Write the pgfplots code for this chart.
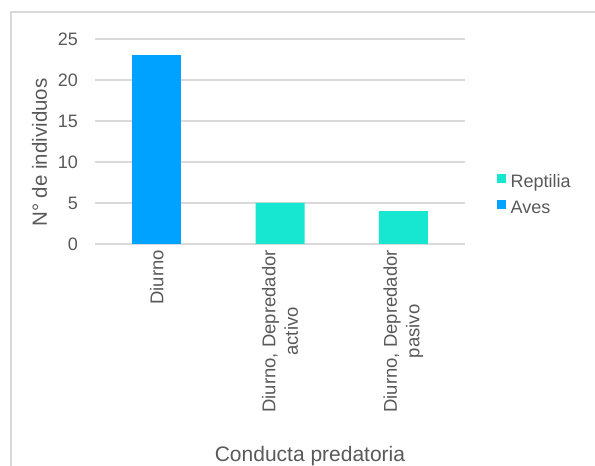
\documentclass[border=0pt]{standalone}
\usepackage{pgfplots}
\pgfplotsset{compat=1.18}
\usepackage{fontspec}
\setmainfont{Liberation Sans}

\definecolor{txt}{HTML}{595959}
\definecolor{gridc}{HTML}{D9D9D9}
\definecolor{aves}{HTML}{00A2FF}
\definecolor{rept}{HTML}{17E6D0}

\begin{document}
\begin{tikzpicture}[x=1bp,y=1bp]
\useasboundingbox (0,0) rectangle (595,466);
% chart area border
\draw[gridc, line width=1.5bp] (11,0) -- (11,454) -- (595,454);
\begin{axis}[
  at={(95bp,222bp)}, anchor=south west,
  scale only axis, width=370bp, height=205bp,
  xmin=-0.5, xmax=2.5, ymin=0, ymax=25,
  ytick={0,5,...,25},
  xtick={0,1,2},
  xticklabels={Diurno, {Diurno, Depredador\\activo}, {Diurno, Depredador\\pasivo}},
  axis line style={draw=none},
  major tick length=0pt,
  ymajorgrids, grid style={gridc, line width=1.3bp},
  tick label style={font=\fontsize{18bp}{22bp}\selectfont, text=txt},
  /pgf/number format/assume math mode=true,
  yticklabel style={inner sep=0pt, xshift=-17bp},
  xticklabel style={inner sep=0pt, yshift=-6bp, rotate=90, anchor=east, align=center,
    font=\fontsize{18.5bp}{22.5bp}\selectfont},
  xlabel={Conducta predatoria},
  ylabel={N° de individuos},
  every axis x label/.style={at={(0.581,-1.062)}, anchor=base,
    font=\fontsize{21bp}{24bp}\selectfont, text=txt},
  every axis y label/.style={at={(-0.15,0.446)}, anchor=center, rotate=90,
    font=\fontsize{20.5bp}{24bp}\selectfont, text=txt},
  ybar, bar width=49bp,
  legend style={at={(1.0865,0.343)}, anchor=north west, draw=none, fill=none,
    inner sep=0pt, row sep=9bp, font=\fontsize{18bp}{22bp}\selectfont, text=txt,
    nodes={inner xsep=4.5bp, inner ysep=0pt, text height=13bp, text depth=4bp}},
  legend cell align=left,
  legend image code/.code={\fill[#1] (0bp,0bp) rectangle (9bp,9bp);},
]
\addplot[fill=rept, draw=none, bar shift=0pt] coordinates {(1,5) (2,4)};
\addlegendentry{Reptilia}
\addplot[fill=aves, draw=none, bar shift=0pt] coordinates {(0,23)};
\addlegendentry{Aves}
\end{axis}
\end{tikzpicture}
\end{document}
